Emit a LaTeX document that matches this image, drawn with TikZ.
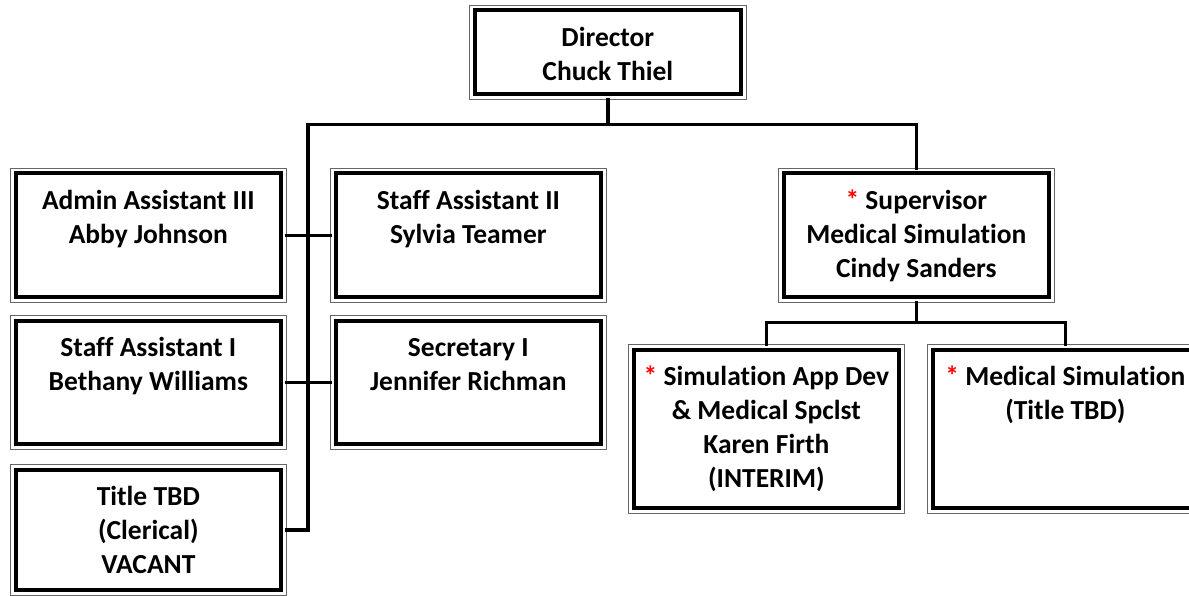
\documentclass[tikz,border=0pt]{standalone}
\usepackage{fontspec}
\setmainfont{Carlito}[Ligatures=NoCommon]
\usetikzlibrary{calc}

\newcommand{\boxtext}[2]{\parbox[t][#1][t]{276pt}{\centering\rule{0pt}{41.5pt}#2}}
\newcommand{\redstar}{{\color{red}*}\ }

\begin{document}
\begin{tikzpicture}[x=1pt,y=-1pt,line cap=rect,line join=miter,
  orgbox/.style={draw=black!60,line width=0.7pt,rectangle,inner sep=0pt,
    minimum width=276pt,anchor=north west,
    font=\bfseries\fontsize{27.5}{34}\selectfont,
    append after command={\pgfextra{\draw[line width=4pt]
      ([shift={(5.5pt,-5.5pt)}]\tikzlastnode.north west) rectangle
      ([shift={(-5.5pt,5.5pt)}]\tikzlastnode.south east);}}},
  conn/.style={line width=3.6pt,line cap=rect}]
\useasboundingbox (0,0) rectangle (1189,596);
\clip (0,0) rectangle (1189,596);
% top
\node[orgbox,minimum width=277pt] (dir) at (469,5) {\boxtext{94pt}{Director\\Chuck Thiel}};
% left column
\node[orgbox] (admin) at (10,168) {\boxtext{134pt}{Admin Assistant III\\Abby Johnson}};
\node[orgbox] (staffone) at (10,315) {\boxtext{134pt}{Staff Assistant I\\Bethany Williams}};
\node[orgbox] (title) at (10,464) {\boxtext{131pt}{Title TBD\\(Clerical)\\VACANT}};
% middle column
\node[orgbox] (stafftwo) at (330,168) {\boxtext{134pt}{Staff Assistant II\\Sylvia Teamer}};
\node[orgbox] (secr) at (330,315) {\boxtext{134pt}{Secretary I\\Jennifer Richman}};
% right branch
\node[orgbox] (sup) at (778,168) {\boxtext{134pt}{\redstar Supervisor\\Medical Simulation\\Cindy Sanders}};
\node[orgbox] (simapp) at (628,344) {\boxtext{169pt}{\redstar Simulation App Dev\\\& Medical Spclst\\Karen Firth\\(INTERIM)}};
\node[orgbox] (medsim) at (927,344) {\boxtext{169pt}{\redstar Medical Simulation\\(Title TBD)}};
% connectors
\coordinate (bus) at (308,124.5);
\coordinate (subbus) at (766,322.5);
\draw[conn] (dir.south) -- (dir.south |- bus);
\draw[conn] (bus) -| (sup.north);
\draw[conn] (bus) |- (title.east);
\draw[conn] (admin.east) -- (stafftwo.west);
\draw[conn] (staffone.east) -- (secr.west);
\draw[conn] (sup.south) -- (sup.south |- subbus);
\draw[conn] (simapp.north) -- (simapp.north |- subbus) -| (medsim.north);
\end{tikzpicture}
\end{document}
